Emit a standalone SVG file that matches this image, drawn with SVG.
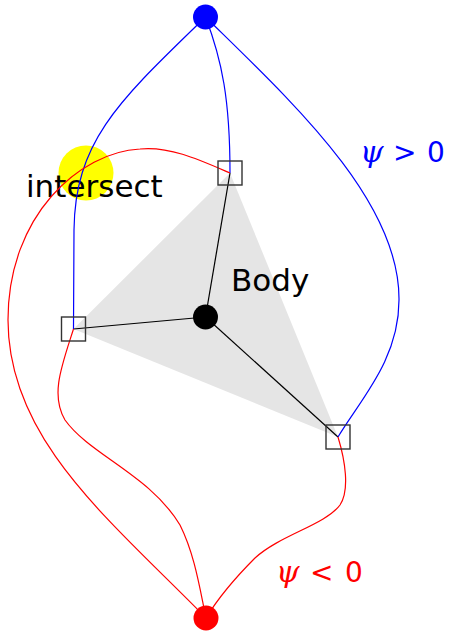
<svg xmlns="http://www.w3.org/2000/svg" width="452" height="632" viewBox="0 0 452 632">
<style>
.blue{fill:none;stroke:#0000ff;stroke-width:1.2}
.red{fill:none;stroke:#ff0000;stroke-width:1.2}
.blk{fill:none;stroke:#000;stroke-width:1.2}
.sq{fill:none;stroke:#333;stroke-width:1.4}
.lbl{font-family:"DejaVu Sans",sans-serif;fill:#000;font-size:31px}
.psi{font-family:"DejaVu Serif","Liberation Serif",serif;font-style:italic;font-size:30px}
.math{font-family:"DejaVu Sans",sans-serif;font-size:28px}
</style>
<rect width="452" height="632" fill="#fff"/>
<g id="body">
<polygon points="230,173 73.5,329 338,437" fill="#e5e5e5"/>
</g>
<g id="intersect">
<circle cx="86" cy="173" r="27.5" fill="#ffff00"/>
<text class="lbl" x="26" y="196.5">intersect</text>
</g>
<g id="body-label">
<text class="lbl" x="231" y="291">Body</text>
</g>
<g id="connectors">
<line class="blk" x1="205.5" y1="317" x2="230" y2="173"/>
<line class="blk" x1="205.5" y1="317" x2="73.5" y2="329"/>
<line class="blk" x1="205.5" y1="317" x2="338" y2="437"/>
<path class="blue" d="M205.5,17 C120,100 75,140 74,230 L73.5,329"/>
<path class="blue" d="M205.5,17 C222,60 230,100 230,173"/>
<path class="blue" d="M205.5,17 C290,100 400,200 399,300 C399,360 360,400 338,437"/>
<path class="red" d="M230,173 C200,160 170,146 140,149 C80,152 8,215 8,320 C8,440 110,520 206,618"/>
<path class="red" d="M73.5,329 C62,365 50,395 65,420 C90,455 150,475 180,525 C195,555 200,590 206,618"/>
<path class="red" d="M338,437 C345,460 350,490 340,505 C325,525 280,535 255,558 C235,578 220,595 206,618"/>
</g>
<g id="sq-top"><rect class="sq" x="218" y="161" width="24" height="24"/></g>
<g id="sq-left"><rect class="sq" x="61.5" y="317" width="24" height="24"/></g>
<g id="sq-right"><rect class="sq" x="326" y="425" width="24" height="24"/></g>
<g id="node-top"><circle cx="205.5" cy="17" r="12.5" fill="#0000ff"/></g>
<g id="node-body"><circle cx="205.5" cy="317" r="12.5" fill="#000"/></g>
<g id="node-bottom"><circle cx="206" cy="618" r="12.5" fill="#ff0000"/></g>
<g id="label-pos" fill="#0000ff">
<text class="psi" x="360" y="162">ψ</text>
<text class="math" x="393" y="162">&gt;</text>
<text class="math" x="427" y="162">0</text>
</g>
<g id="label-neg" fill="#ff0000">
<text class="psi" x="276" y="582">ψ</text>
<text class="math" x="310" y="582">&lt;</text>
<text class="math" x="345" y="582">0</text>
</g>
</svg>
